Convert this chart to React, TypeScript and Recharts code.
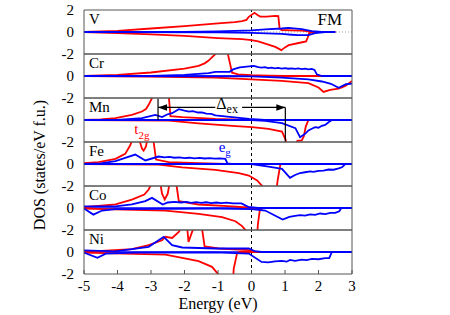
import React from 'react';
import { LineChart, Line, XAxis, YAxis, ReferenceLine } from 'recharts';

type P = [number, number][];

const ENERGY_TICKS = [-5, -4, -3, -2, -1, 0, 1, 2, 3];
const ELEMENTS = ['V', 'Cr', 'Mn', 'Fe', 'Co', 'Ni'];

// ---- V ----
const vT2gUp: P = [[-5, 0], [-4, 0.1], [-3, 0.32], [-2, 0.53], [-1, 0.78], [-0.5, 0.9], [-0.28, 0.98], [-0.15, 1.1], [-0.08, 1.38], [0.09, 1.74], [0.18, 1.55], [0.26, 1.4], [0.45, 1.4], [0.71, 1.47], [0.8, 1.45], [0.84, 0.3], [0.9, 0.18], [1.2, 0.15], [1.5, 0.12], [1.7, 0.05], [1.9, 0], [2.5, 0]];
const vT2gDn: P = [[-5, 0], [-4, -0.1], [-3, -0.22], [-2, -0.36], [-1, -0.55], [-0.28, -0.65], [0, -0.74], [0.2, -0.85], [0.41, -1.05], [0.71, -1.35], [0.89, -1.65], [1.0, -1.4], [1.11, -1.2], [1.41, -1.0], [1.63, -0.85], [1.68, -0.5], [1.72, -0.1], [1.85, 0], [2.5, 0]];
const vEgUp: P = [[-5, 0], [-2, 0.02], [-1, 0.06], [-0.5, 0.1], [0, 0.15], [0.41, 0.23], [0.9, 0.32], [1.1, 0.38], [1.5, 0.26], [1.8, 0.08], [2.1, 0], [2.5, 0]];
const vEgDn: P = [[-5, 0], [-1, -0.03], [0, -0.08], [0.9, -0.17], [1.2, -0.25], [1.4, -0.29], [1.7, -0.29], [1.9, -0.1], [2.2, 0], [2.5, 0]];

// ---- Cr ----
const crT2gUp: P = [[-5, 0], [-4, 0.1], [-3, 0.32], [-2, 0.68], [-1.58, 0.92], [-1.4, 1.15], [-1.28, 1.4], [-1.08, 2.0], [-0.95, 2.4], [-0.75, 2.5], [-0.72, 2.2], [-0.58, 0.3], [-0.4, 0.15], [0, 0.08], [0.5, 0.03], [1, 0], [3, 0]];
const crT2gDn: P = [[-5, 0], [-3, -0.05], [-1.08, -0.14], [0, -0.3], [0.9, -0.45], [1.7, -0.65], [2.0, -1.05], [2.15, -1.45], [2.35, -1.26], [2.6, -1.14], [2.8, -0.9], [3, -0.45]];
const crEgUp: P = [[-5, 0], [-3, 0.02], [-2, 0.1], [-1.28, 0.26], [-1.08, 0.38], [-0.65, 0.38], [-0.55, 0.6], [-0.35, 0.78], [0.07, 0.92], [0.2, 0.8], [0.3, 0.77], [0.4, 0.8], [0.5, 0.72], [0.6, 0.76], [0.7, 0.7], [0.8, 0.74], [0.9, 0.68], [1.0, 0.72], [1.1, 0.66], [1.2, 0.7], [1.3, 0.65], [1.4, 0.69], [1.5, 0.63], [1.6, 0.67], [1.7, 0.6], [1.8, 0.64], [1.88, 0.55], [1.95, 0.15], [2.1, 0], [3, 0]];
const crEgDn: P = [[-5, 0], [0, -0.03], [0.9, -0.14], [1.7, -0.3], [2.1, -0.5], [2.37, -0.71], [2.6, -1.07], [2.82, -0.75], [3, -0.7]];

// ---- Mn ----
const mnT2gUp: P = [[-5, 0], [-4.5, 0.05], [-4.06, 0.17], [-3.57, 0.47], [-3.27, 0.77], [-3.15, 1.0], [-3.07, 1.38], [-2.97, 2.0], [-2.9, 2.5], [-2.5, 2.5], [-2.47, 2.2], [-2.42, 0.35], [-2.07, 0.26], [-1.08, 0.1], [-0.1, 0.02], [0.5, 0], [3, 0]];
const mnT2gDn: P = [[-5, 0], [-2.47, -0.05], [-1.58, -0.3], [-0.58, -0.53], [0.01, -0.65], [0.51, -0.8], [0.91, -1.05], [1.02, -1.8], [1.05, -2.5], [1.35, -2.5], [1.37, -1.9], [1.5, -1.85], [1.56, -1.5], [1.62, -0.6], [1.7, 0], [3, 0]];
const mnEgUp: P = [[-5, 0], [-4, 0.02], [-3.27, 0.17], [-2.87, 0.47], [-2.67, 0.26], [-2.52, 0.5], [-2.37, 0.62], [-2.17, 0.98], [-2.0, 0.85], [-1.87, 0.77], [-1.75, 0.8], [-1.6, 0.68], [-1.48, 0.7], [-1.35, 0.58], [-1.2, 0.55], [-1.08, 0.42], [-0.58, 0.26], [-0.07, 0.1], [0.4, 0], [3, 0]];
const mnEgDn: P = [[-5, 0], [0, 0], [0.41, -0.08], [0.91, -0.29], [1.31, -0.74], [1.45, -1.56], [1.6, -1.26], [1.7, -0.95], [1.8, -0.8], [1.9, -0.65], [2.0, -0.7], [2.1, -0.53], [2.2, -0.45], [2.3, -0.2], [2.4, 0], [3, 0]];

// ---- Fe ----
const feT2gUp: P = [[-5, 0.07], [-4.56, 0.17], [-4.06, 0.47], [-3.77, 0.92], [-3.62, 1.7], [-3.57, 2.1], [-3.5, 2.5], [-3.35, 2.2], [-3.27, 1.4], [-3.22, 1.22], [-3.15, 1.6], [-3.12, 2.1], [-3.0, 2.5], [-2.93, 2.2], [-2.85, 0.4], [-2.47, 0.17], [-1.58, 0.08], [-0.78, 0], [3, 0]];
const feT2gDn: P = [[-5, 0], [-2.77, -0.05], [-2.07, -0.3], [-1.08, -0.53], [-0.38, -0.83], [-0.08, -1.05], [0.17, -1.5], [0.32, -2.0], [0.4, -2.5], [0.74, -2.5], [0.78, -1.5], [0.86, -0.05], [0.9, 0], [3, 0]];
const feEgUp: P = [[-5, 0], [-4.5, 0.05], [-4.06, 0.26], [-3.77, 0.56], [-3.47, 0.86], [-3.17, 0.32], [-2.77, 0.68], [-2.6, 0.6], [-2.45, 0.64], [-2.3, 0.57], [-2.15, 0.6], [-2.0, 0.54], [-1.85, 0.57], [-1.7, 0.52], [-1.55, 0.55], [-1.4, 0.5], [-1.25, 0.53], [-1.1, 0.48], [-0.95, 0.51], [-0.78, 0.47], [-0.72, 0.05], [-0.6, 0], [3, 0]];
const feEgDn: P = [[-5, 0], [0, 0], [0.51, -0.23], [0.91, -0.44], [1.15, -1.26], [1.3, -1.0], [1.45, -0.82], [1.6, -0.75], [1.75, -0.68], [1.85, -0.72], [2.0, -0.62], [2.15, -0.6], [2.3, -0.5], [2.45, -0.52], [2.6, -0.4], [2.7, -0.3], [2.8, 0], [3, 0]];

// ---- Co ----
const coT2gUp: P = [[-5, 0.07], [-4.06, 0.32], [-3.57, 0.77], [-3.2, 1.22], [-3.07, 1.68], [-3.0, 2.1], [-2.9, 2.5], [-2.72, 2.2], [-2.67, 1.3], [-2.59, 0.77], [-2.5, 1.3], [-2.45, 2.2], [-2.3, 2.5], [-2.24, 2.1], [-2.17, 0.62], [-1.58, 0.32], [-0.58, 0.14], [0.1, 0], [3, 0]];
const coT2gDn: P = [[-5, -0.05], [-2.57, -0.23], [-1.58, -0.53], [-0.88, -0.83], [-0.48, -1.2], [-0.28, -1.65], [-0.18, -2.0], [-0.1, -2.5], [0.17, -2.5], [0.19, -1.5], [0.25, -0.15], [0.35, 0], [3, 0]];
const coEgUp: P = [[-5, 0.14], [-4.06, 0.14], [-3.57, 0.32], [-3.17, 0.62], [-2.97, 0.92], [-2.65, 0.32], [-2.5, 0.5], [-2.3, 0.56], [-2.1, 0.5], [-1.95, 0.55], [-1.8, 0.47], [-1.65, 0.53], [-1.5, 0.46], [-1.35, 0.52], [-1.2, 0.45], [-1.05, 0.5], [-0.9, 0.44], [-0.75, 0.48], [-0.55, 0.42], [-0.3, 0.42], [-0.1, 0.1], [0.2, 0], [3, 0]];
const coEgDn: P = [[-5, -0.05], [-4.72, -0.6], [-4.46, -0.23], [-4.06, -0.1], [-1, -0.05], [0.01, -0.1], [0.41, -0.23], [0.93, -1.05], [1.13, -0.8], [1.3, -0.72], [1.45, -0.65], [1.6, -0.7], [1.75, -0.58], [1.9, -0.62], [2.05, -0.5], [2.2, -0.55], [2.35, -0.45], [2.5, -0.45], [2.62, -0.3], [2.68, 0], [3, 0]];

// ---- Ni ----
const niT2gUp: P = [[-5, 0], [-3.57, 0.26], [-3.07, 0.62], [-2.67, 1.07], [-2.57, 1.38], [-2.37, 1.28], [-2.17, 1.83], [-2.1, 2.2], [-2.0, 2.5], [-1.92, 2.2], [-1.88, 0.92], [-1.8, 1.6], [-1.73, 2.2], [-1.6, 2.5], [-1.48, 2.2], [-1.4, 0.5], [-0.98, 0.32], [-0.08, 0.17], [0.12, 0], [3, 0]];
const niT2gDn: P = [[-5, -0.05], [-2.57, -0.23], [-2.07, -0.53], [-1.58, -0.83], [-1.18, -1.35], [-1.0, -2.0], [-0.95, -2.5], [-0.55, -2.5], [-0.53, -1.5], [-0.43, -0.1], [-0.35, 0], [3, 0]];
const niEgUp: P = [[-5, 0.14], [-4.06, 0.06], [-3.07, 0.47], [-2.62, 1.38], [-2.37, 0.62], [-2.07, 0.41], [-1.08, 0.32], [-0.08, 0.32], [0.1, 0.07], [0.3, 0], [3, 0]];
const niEgDn: P = [[-5, -0.05], [-4.6, -0.53], [-4.35, -0.15], [-3.5, -0.05], [-1.08, -0.03], [-0.08, -0.14], [0.3, -0.9], [0.5, -0.95], [0.7, -0.85], [0.9, -0.8], [1.05, -0.88], [1.15, -0.72], [1.3, -0.8], [1.5, -0.7], [1.65, -0.74], [1.8, -0.62], [2.0, -0.66], [2.2, -0.55], [2.32, -0.55], [2.4, 0], [3, 0]];

const PANELS = [
  { t2gUp: vT2gUp, t2gDn: vT2gDn, egUp: vEgUp, egDn: vEgDn },
  { t2gUp: crT2gUp, t2gDn: crT2gDn, egUp: crEgUp, egDn: crEgDn },
  { t2gUp: mnT2gUp, t2gDn: mnT2gDn, egUp: mnEgUp, egDn: mnEgDn },
  { t2gUp: feT2gUp, t2gDn: feT2gDn, egUp: feEgUp, egDn: feEgDn },
  { t2gUp: coT2gUp, t2gDn: coT2gDn, egUp: coEgUp, egDn: coEgDn },
  { t2gUp: niT2gUp, t2gDn: niT2gDn, egUp: niEgUp, egDn: niEgDn },
];

// Δex annotation (Mn panel), in data units
const DEX_LEFT = -2.79;
const DEX_RIGHT = 1.01;
const DEX_LEVEL = 1.14;

const FONT = '"Liberation Serif", "Times New Roman", serif';
const RED = '#ff0000';
const BLUE = '#0000ff';
const FRAME = '#555';

const W = 450;
const H = 315;
const LEFT = 84;
const RIGHT = 352;
const TOP = 10;
const PH = 44;
const PAD = 12;
const XMIN = -5;
const XMAX = 3;

const ex = (e: number) => LEFT + ((e - XMIN) / (XMAX - XMIN)) * (RIGHT - LEFT);
const ey = (panel: number, v: number) => TOP + panel * PH + ((2 - v) / 4) * PH;

const pts = (a: P) => a.map(([x, y]) => ({ x, y }));

const leftArrow = (p: any) => {
  const { x1, y1, x2, y2 } = p;
  return (
    <g>
      <line x1={x1} y1={y1} x2={x2} y2={y2} stroke="#000" strokeWidth={1.2} />
      <polygon points={`${x1},${y1} ${x1 + 9},${y1 - 3.2} ${x1 + 9},${y1 + 3.2}`} fill="#000" />
    </g>
  );
};
const rightArrow = (p: any) => {
  const { x1, y1, x2, y2 } = p;
  return (
    <g>
      <line x1={x1} y1={y1} x2={x2} y2={y2} stroke="#000" strokeWidth={1.2} />
      <polygon points={`${x2},${y2} ${x2 - 9},${y2 - 3.2} ${x2 - 9},${y2 + 3.2}`} fill="#000" />
    </g>
  );
};

// Curves of one panel, clipped to the panel's plot box
function SeriesLayer({ idx }: { idx: number }) {
  const d = PANELS[idx];
  const h = PAD + PH + PAD;
  return (
    <div
      style={{
        position: 'absolute',
        left: 0,
        top: TOP + idx * PH - PAD,
        width: W,
        height: h,
        clipPath: `inset(${PAD}px ${W - RIGHT}px ${PAD}px ${LEFT}px)`,
      }}
    >
      <LineChart width={W} height={h} margin={{ top: PAD, right: W - RIGHT, bottom: PAD, left: LEFT }}>
        <XAxis type="number" dataKey="x" domain={[XMIN, XMAX]} allowDataOverflow hide height={0} />
        <YAxis type="number" domain={[-2, 2]} allowDataOverflow hide width={0} />
        {idx === 0 ? (
          <ReferenceLine y={0} stroke="#999" strokeDasharray="1 2" />
        ) : (
          <ReferenceLine y={0} stroke={BLUE} strokeWidth={1.5} />
        )}
        <ReferenceLine x={0} stroke="#000" strokeDasharray="3 3" />
        <Line data={pts(d.t2gUp)} dataKey="y" type="linear" stroke={RED} strokeWidth={1.8} dot={false} isAnimationActive={false} />
        <Line data={pts(d.t2gDn)} dataKey="y" type="linear" stroke={RED} strokeWidth={1.8} dot={false} isAnimationActive={false} />
        <Line data={pts(d.egUp)} dataKey="y" type="linear" stroke={BLUE} strokeWidth={1.8} dot={false} isAnimationActive={false} />
        <Line data={pts(d.egDn)} dataKey="y" type="linear" stroke={BLUE} strokeWidth={1.8} dot={false} isAnimationActive={false} />
        {idx === 2 && (
          <ReferenceLine segment={[{ x: DEX_LEFT, y: DEX_LEVEL }, { x: -1.08, y: DEX_LEVEL }]} shape={leftArrow} />
        )}
        {idx === 2 && (
          <ReferenceLine segment={[{ x: -0.28, y: DEX_LEVEL }, { x: DEX_RIGHT, y: DEX_LEVEL }]} shape={rightArrow} />
        )}
        {idx === 2 && (
          <ReferenceLine segment={[{ x: DEX_LEFT, y: 1.95 }, { x: DEX_LEFT, y: 0 }]} stroke="#000" strokeWidth={1.2} />
        )}
        {idx === 2 && (
          <ReferenceLine segment={[{ x: DEX_RIGHT, y: DEX_LEVEL }, { x: DEX_RIGHT, y: -2 }]} stroke="#000" strokeWidth={1.2} />
        )}
      </LineChart>
    </div>
  );
}

// Frame, ticks and tick labels of one panel
function FrameLayer({ idx }: { idx: number }) {
  const last = idx === PANELS.length - 1;
  const xAxisH = 30;
  const bottom = last ? H - (TOP + PH * PANELS.length) - xAxisH : PAD;
  const h = PAD + PH + (last ? xAxisH : 0) + bottom;
  const tickStyle = { fontSize: 15, fill: '#000', fontFamily: FONT };
  return (
    <div style={{ position: 'absolute', left: 0, top: TOP + idx * PH - PAD, width: W, height: h }}>
      <LineChart width={W} height={h} margin={{ top: PAD, right: W - RIGHT, bottom, left: LEFT - 40 }}>
        <XAxis
          type="number"
          dataKey="x"
          domain={[XMIN, XMAX]}
          allowDataOverflow
          ticks={ENERGY_TICKS}
          interval={0}
          hide={!last}
          height={xAxisH}
          tickSize={-4}
          tickMargin={10}
          tick={tickStyle}
          axisLine={false}
          tickLine={{ stroke: FRAME }}
        />
        <YAxis
          type="number"
          domain={[-2, 2]}
          allowDataOverflow
          ticks={idx === 0 ? [-2, 0, 2] : [-2, 0]}
          interval={0}
          width={40}
          tickSize={0}
          tickMargin={10}
          tick={tickStyle}
          axisLine={false}
        />
        <ReferenceLine y={2} stroke={FRAME} strokeWidth={1} />
        <ReferenceLine y={-2} stroke={FRAME} strokeWidth={1} />
        <ReferenceLine x={XMIN} stroke={FRAME} strokeWidth={1} />
        <ReferenceLine x={XMAX} stroke={FRAME} strokeWidth={1} />
      </LineChart>
    </div>
  );
}

export default function App() {
  return (
    <div style={{ position: 'absolute', left: 0, top: 0, width: W, height: H, background: '#fff', overflow: 'hidden' }}>
      {PANELS.map((_, i) => (
        <SeriesLayer key={'s' + i} idx={i} />
      ))}
      {PANELS.map((_, i) => (
        <FrameLayer key={'f' + i} idx={i} />
      ))}
      <svg width={W} height={H} style={{ position: 'absolute', left: 0, top: 0, pointerEvents: 'none' }} fontFamily={FONT}>
        {ELEMENTS.map((el, i) => (
          <text key={el} x={LEFT + 5} y={TOP + i * PH + 13.5} fontSize={15} fill="#000">
            {el}
          </text>
        ))}
        <text x={RIGHT - 10} y={TOP + 14.5} fontSize={17} fill="#000" textAnchor="end">
          FM
        </text>
        <text x={ex(-1.05)} y={ey(2, 1.0)} fontSize={16} fill="#000">
          Δ<tspan fontSize={12} dy={4}>ex</tspan>
        </text>
        <text x={ex(-3.5)} y={ey(2, -1.23)} fontSize={15} fill={RED}>
          t<tspan fontSize={11} dy={5}>2g</tspan>
        </text>
        <text x={ex(-0.98)} y={ey(3, 1.09)} fontSize={15} fill={BLUE}>
          e<tspan fontSize={11} dy={4}>g</tspan>
        </text>
        <text x={(LEFT + RIGHT) / 2} y={309} fontSize={16} fill="#000" textAnchor="middle">
          Energy (eV)
        </text>
        <text x={45} y={165} fontSize={16} fill="#000" textAnchor="middle" transform="rotate(-90, 45, 165)">
          DOS (states/eV f.u.)
        </text>
      </svg>
    </div>
  );
}
